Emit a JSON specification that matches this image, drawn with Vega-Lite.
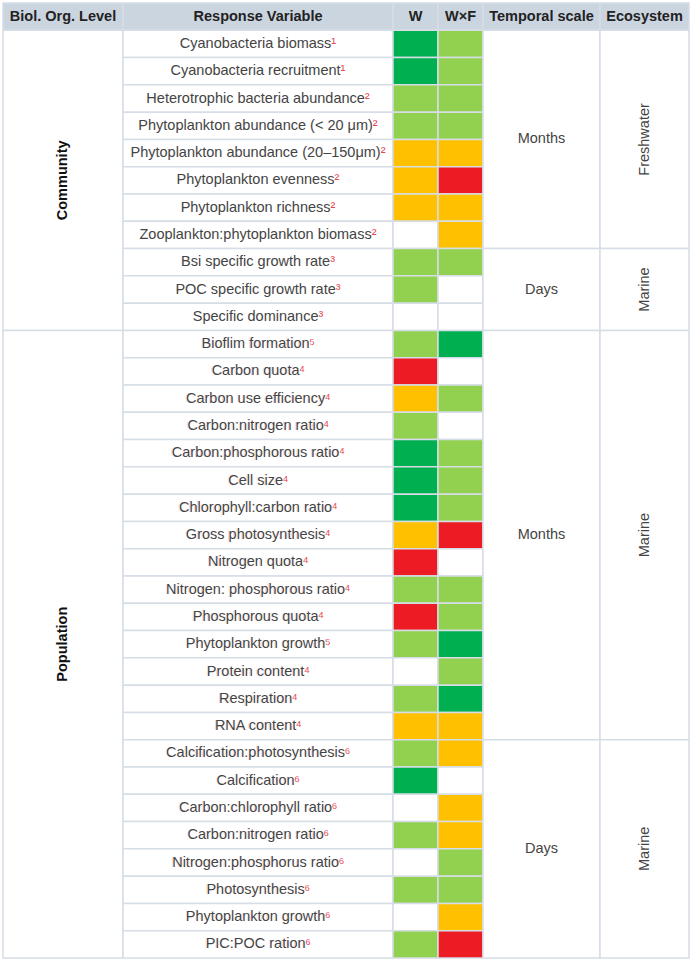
{
  "$schema": "https://vega.github.io/schema/vega-lite/v6.json",
  "padding": {"left": 2, "top": 2, "right": 3, "bottom": 6},
  "spacing": 0,
  "bounds": "flush",
  "config": {
    "view": {"stroke": null},
    "concat": {"spacing": 0},
    "text": {"font": "Liberation Sans", "fontSize": 14.5, "fill": "#444444"}
  },
  "datasets": {
    "rows": [
      {"n": 1, "label": "Cyanobacteria biomass", "full": "Cyanobacteria biomass¹", "W": "DG", "WxF": "LG"},
      {"n": 2, "label": "Cyanobacteria recruitment", "full": "Cyanobacteria recruitment¹", "W": "DG", "WxF": "LG"},
      {"n": 3, "label": "Heterotrophic bacteria abundance", "full": "Heterotrophic bacteria abundance²", "W": "LG", "WxF": "LG"},
      {"n": 4, "label": "Phytoplankton abundance (< 20 μm)", "full": "Phytoplankton abundance (< 20 μm)²", "W": "LG", "WxF": "LG"},
      {"n": 5, "label": "Phytoplankton abundance (20–150μm)", "full": "Phytoplankton abundance (20–150μm)²", "W": "O", "WxF": "O"},
      {"n": 6, "label": "Phytoplankton evenness", "full": "Phytoplankton evenness²", "W": "O", "WxF": "R"},
      {"n": 7, "label": "Phytoplankton richness", "full": "Phytoplankton richness²", "W": "O", "WxF": "O"},
      {"n": 8, "label": "Zooplankton:phytoplankton biomass", "full": "Zooplankton:phytoplankton biomass²", "W": "N", "WxF": "O"},
      {"n": 9, "label": "Bsi specific growth rate", "full": "Bsi specific growth rate³", "W": "LG", "WxF": "LG"},
      {"n": 10, "label": "POC specific growth rate", "full": "POC specific growth rate³", "W": "LG", "WxF": "N"},
      {"n": 11, "label": "Specific dominance", "full": "Specific dominance³", "W": "N", "WxF": "N"},
      {"n": 12, "label": "Bioflim formation", "full": "Bioflim formation⁵", "W": "LG", "WxF": "DG"},
      {"n": 13, "label": "Carbon quota", "full": "Carbon quota⁴", "W": "R", "WxF": "N"},
      {"n": 14, "label": "Carbon use efficiency", "full": "Carbon use efficiency⁴", "W": "O", "WxF": "LG"},
      {"n": 15, "label": "Carbon:nitrogen ratio", "full": "Carbon:nitrogen ratio⁴", "W": "LG", "WxF": "N"},
      {"n": 16, "label": "Carbon:phosphorous ratio", "full": "Carbon:phosphorous ratio⁴", "W": "DG", "WxF": "LG"},
      {"n": 17, "label": "Cell size", "full": "Cell size⁴", "W": "DG", "WxF": "LG"},
      {"n": 18, "label": "Chlorophyll:carbon ratio", "full": "Chlorophyll:carbon ratio⁴", "W": "DG", "WxF": "LG"},
      {"n": 19, "label": "Gross photosynthesis", "full": "Gross photosynthesis⁴", "W": "O", "WxF": "R"},
      {"n": 20, "label": "Nitrogen quota", "full": "Nitrogen quota⁴", "W": "R", "WxF": "N"},
      {"n": 21, "label": "Nitrogen: phosphorous ratio", "full": "Nitrogen: phosphorous ratio⁴", "W": "LG", "WxF": "LG"},
      {"n": 22, "label": "Phosphorous quota", "full": "Phosphorous quota⁴", "W": "R", "WxF": "LG"},
      {"n": 23, "label": "Phytoplankton growth", "full": "Phytoplankton growth⁵", "W": "LG", "WxF": "DG"},
      {"n": 24, "label": "Protein content", "full": "Protein content⁴", "W": "N", "WxF": "LG"},
      {"n": 25, "label": "Respiration", "full": "Respiration⁴", "W": "LG", "WxF": "DG"},
      {"n": 26, "label": "RNA content", "full": "RNA content⁴", "W": "O", "WxF": "O"},
      {"n": 27, "label": "Calcification:photosynthesis", "full": "Calcification:photosynthesis⁶", "W": "LG", "WxF": "O"},
      {"n": 28, "label": "Calcification", "full": "Calcification⁶", "W": "DG", "WxF": "N"},
      {"n": 29, "label": "Carbon:chlorophyll ratio", "full": "Carbon:chlorophyll ratio⁶", "W": "N", "WxF": "O"},
      {"n": 30, "label": "Carbon:nitrogen ratio", "full": "Carbon:nitrogen ratio⁶", "W": "LG", "WxF": "O"},
      {"n": 31, "label": "Nitrogen:phosphorus ratio", "full": "Nitrogen:phosphorus ratio⁶", "W": "N", "WxF": "LG"},
      {"n": 32, "label": "Photosynthesis", "full": "Photosynthesis⁶", "W": "LG", "WxF": "LG"},
      {"n": 33, "label": "Phytoplankton growth", "full": "Phytoplankton growth⁶", "W": "N", "WxF": "O"},
      {"n": 34, "label": "PIC:POC ration", "full": "PIC:POC ration⁶", "W": "LG", "WxF": "R"}
    ],
    "levels": [
      {"level": "Community", "first": 1, "last": 11, "anchor": 6},
      {"level": "Population", "first": 12, "last": 34, "anchor": 23}
    ],
    "spans": [
      {"time": "Months", "eco": "Freshwater", "first": 1, "last": 8, "anchor": 4},
      {"time": "Days", "eco": "Marine", "first": 9, "last": 11, "anchor": 10},
      {"time": "Months", "eco": "Marine", "first": 12, "last": 26, "anchor": 19},
      {"time": "Days", "eco": "Marine", "first": 27, "last": 34, "anchor": 30}
    ]
  },
  "hconcat": [
    {
      "width": 120, "height": 955,
      "layer": [
        {"data": {"values": [{"n": 0, "h": "Biol. Org. Level"}]}, "mark": {"type": "rect", "fill": "#cbd5e0", "stroke": "#d6dde6", "strokeWidth": 1.5},
         "encoding": {"y": {"field": "n", "type": "ordinal", "scale": {"domain": [0,1,2,3,4,5,6,7,8,9,10,11,12,13,14,15,16,17,18,19,20,21,22,23,24,25,26,27,28,29,30,31,32,33,34], "paddingInner": 0, "paddingOuter": 0}, "axis": null}}},
        {"data": {"values": [{"n": 0, "h": "Biol. Org. Level"}]}, "mark": {"type": "text", "fontWeight": "bold", "fill": "#222222"},
         "encoding": {"y": {"field": "n", "type": "ordinal", "scale": {"domain": [0,1,2,3,4,5,6,7,8,9,10,11,12,13,14,15,16,17,18,19,20,21,22,23,24,25,26,27,28,29,30,31,32,33,34], "paddingInner": 0, "paddingOuter": 0}, "axis": null}, "text": {"field": "h"}}},
        {"data": {"name": "levels"}, "mark": {"type": "rect", "fill": "#ffffff", "stroke": "#d6dde6", "strokeWidth": 1.5},
         "encoding": {"y": {"field": "first", "type": "ordinal", "bandPosition": 0, "scale": {"domain": [0,1,2,3,4,5,6,7,8,9,10,11,12,13,14,15,16,17,18,19,20,21,22,23,24,25,26,27,28,29,30,31,32,33,34], "paddingInner": 0, "paddingOuter": 0}, "axis": null}, "y2": {"field": "last", "bandPosition": 1}}},
        {"data": {"name": "levels"}, "mark": {"type": "text", "angle": 270, "fontWeight": "bold", "fill": "#111111"},
         "encoding": {"y": {"field": "anchor", "type": "ordinal", "scale": {"domain": [0,1,2,3,4,5,6,7,8,9,10,11,12,13,14,15,16,17,18,19,20,21,22,23,24,25,26,27,28,29,30,31,32,33,34], "paddingInner": 0, "paddingOuter": 0}, "axis": null}, "text": {"field": "level"}}}
      ]
    },
    {
      "width": 270, "height": 955,
      "layer": [
        {"data": {"values": [{"n": 0, "h": "Response Variable"}]}, "mark": {"type": "rect", "fill": "#cbd5e0", "stroke": "#d6dde6", "strokeWidth": 1.5},
         "encoding": {"y": {"field": "n", "type": "ordinal", "scale": {"domain": [0,1,2,3,4,5,6,7,8,9,10,11,12,13,14,15,16,17,18,19,20,21,22,23,24,25,26,27,28,29,30,31,32,33,34], "paddingInner": 0, "paddingOuter": 0}, "axis": null}}},
        {"data": {"values": [{"n": 0, "h": "Response Variable"}]}, "mark": {"type": "text", "fontWeight": "bold", "fill": "#222222"},
         "encoding": {"y": {"field": "n", "type": "ordinal", "scale": {"domain": [0,1,2,3,4,5,6,7,8,9,10,11,12,13,14,15,16,17,18,19,20,21,22,23,24,25,26,27,28,29,30,31,32,33,34], "paddingInner": 0, "paddingOuter": 0}, "axis": null}, "text": {"field": "h"}}},
        {"data": {"name": "rows"}, "mark": {"type": "rect", "fill": "#ffffff", "stroke": "#d6dde6", "strokeWidth": 1.5},
         "encoding": {"y": {"field": "n", "type": "ordinal", "scale": {"domain": [0,1,2,3,4,5,6,7,8,9,10,11,12,13,14,15,16,17,18,19,20,21,22,23,24,25,26,27,28,29,30,31,32,33,34], "paddingInner": 0, "paddingOuter": 0}, "axis": null}}},
        {"data": {"name": "rows"}, "mark": {"type": "text", "fill": "#e8474f"},
         "encoding": {"y": {"field": "n", "type": "ordinal", "scale": {"domain": [0,1,2,3,4,5,6,7,8,9,10,11,12,13,14,15,16,17,18,19,20,21,22,23,24,25,26,27,28,29,30,31,32,33,34], "paddingInner": 0, "paddingOuter": 0}, "axis": null}, "text": {"field": "full"}}},
        {"data": {"name": "rows"}, "mark": {"type": "text", "fill": "#ffffff", "stroke": "#ffffff", "strokeWidth": 1.6, "dx": -2.41},
         "encoding": {"y": {"field": "n", "type": "ordinal", "scale": {"domain": [0,1,2,3,4,5,6,7,8,9,10,11,12,13,14,15,16,17,18,19,20,21,22,23,24,25,26,27,28,29,30,31,32,33,34], "paddingInner": 0, "paddingOuter": 0}, "axis": null}, "text": {"field": "label"}}},
        {"data": {"name": "rows"}, "mark": {"type": "text", "fill": "#444444", "dx": -2.41},
         "encoding": {"y": {"field": "n", "type": "ordinal", "scale": {"domain": [0,1,2,3,4,5,6,7,8,9,10,11,12,13,14,15,16,17,18,19,20,21,22,23,24,25,26,27,28,29,30,31,32,33,34], "paddingInner": 0, "paddingOuter": 0}, "axis": null}, "text": {"field": "label"}}}
      ]
    },
    {
      "width": 45, "height": 955,
      "layer": [
        {"data": {"values": [{"n": 0, "h": "W"}]}, "mark": {"type": "rect", "fill": "#cbd5e0", "stroke": "#d6dde6", "strokeWidth": 1.5},
         "encoding": {"y": {"field": "n", "type": "ordinal", "scale": {"domain": [0,1,2,3,4,5,6,7,8,9,10,11,12,13,14,15,16,17,18,19,20,21,22,23,24,25,26,27,28,29,30,31,32,33,34], "paddingInner": 0, "paddingOuter": 0}, "axis": null}}},
        {"data": {"values": [{"n": 0, "h": "W"}]}, "mark": {"type": "text", "fontWeight": "bold", "fill": "#222222"},
         "encoding": {"y": {"field": "n", "type": "ordinal", "scale": {"domain": [0,1,2,3,4,5,6,7,8,9,10,11,12,13,14,15,16,17,18,19,20,21,22,23,24,25,26,27,28,29,30,31,32,33,34], "paddingInner": 0, "paddingOuter": 0}, "axis": null}, "text": {"field": "h"}}},
        {"data": {"name": "rows"}, "mark": {"type": "rect", "stroke": "#d6dde6", "strokeWidth": 1.5},
         "encoding": {"y": {"field": "n", "type": "ordinal", "scale": {"domain": [0,1,2,3,4,5,6,7,8,9,10,11,12,13,14,15,16,17,18,19,20,21,22,23,24,25,26,27,28,29,30,31,32,33,34], "paddingInner": 0, "paddingOuter": 0}, "axis": null},
           "fill": {"field": "W", "type": "nominal", "scale": {"domain": ["DG", "LG", "O", "R", "N"], "range": ["#00b050", "#92d050", "#ffc000", "#ed1c24", "#ffffff"]}, "legend": null}}}
      ]
    },
    {
      "width": 45, "height": 955,
      "layer": [
        {"data": {"values": [{"n": 0, "h": "W×F"}]}, "mark": {"type": "rect", "fill": "#cbd5e0", "stroke": "#d6dde6", "strokeWidth": 1.5},
         "encoding": {"y": {"field": "n", "type": "ordinal", "scale": {"domain": [0,1,2,3,4,5,6,7,8,9,10,11,12,13,14,15,16,17,18,19,20,21,22,23,24,25,26,27,28,29,30,31,32,33,34], "paddingInner": 0, "paddingOuter": 0}, "axis": null}}},
        {"data": {"values": [{"n": 0, "h": "W×F"}]}, "mark": {"type": "text", "fontWeight": "bold", "fill": "#222222"},
         "encoding": {"y": {"field": "n", "type": "ordinal", "scale": {"domain": [0,1,2,3,4,5,6,7,8,9,10,11,12,13,14,15,16,17,18,19,20,21,22,23,24,25,26,27,28,29,30,31,32,33,34], "paddingInner": 0, "paddingOuter": 0}, "axis": null}, "text": {"field": "h"}}},
        {"data": {"name": "rows"}, "mark": {"type": "rect", "stroke": "#d6dde6", "strokeWidth": 1.5},
         "encoding": {"y": {"field": "n", "type": "ordinal", "scale": {"domain": [0,1,2,3,4,5,6,7,8,9,10,11,12,13,14,15,16,17,18,19,20,21,22,23,24,25,26,27,28,29,30,31,32,33,34], "paddingInner": 0, "paddingOuter": 0}, "axis": null},
           "fill": {"field": "WxF", "type": "nominal", "scale": {"domain": ["DG", "LG", "O", "R", "N"], "range": ["#00b050", "#92d050", "#ffc000", "#ed1c24", "#ffffff"]}, "legend": null}}}
      ]
    },
    {
      "width": 117, "height": 955,
      "layer": [
        {"data": {"values": [{"n": 0, "h": "Temporal scale"}]}, "mark": {"type": "rect", "fill": "#cbd5e0", "stroke": "#d6dde6", "strokeWidth": 1.5},
         "encoding": {"y": {"field": "n", "type": "ordinal", "scale": {"domain": [0,1,2,3,4,5,6,7,8,9,10,11,12,13,14,15,16,17,18,19,20,21,22,23,24,25,26,27,28,29,30,31,32,33,34], "paddingInner": 0, "paddingOuter": 0}, "axis": null}}},
        {"data": {"values": [{"n": 0, "h": "Temporal scale"}]}, "mark": {"type": "text", "fontWeight": "bold", "fill": "#222222"},
         "encoding": {"y": {"field": "n", "type": "ordinal", "scale": {"domain": [0,1,2,3,4,5,6,7,8,9,10,11,12,13,14,15,16,17,18,19,20,21,22,23,24,25,26,27,28,29,30,31,32,33,34], "paddingInner": 0, "paddingOuter": 0}, "axis": null}, "text": {"field": "h"}}},
        {"data": {"name": "spans"}, "mark": {"type": "rect", "fill": "#ffffff", "stroke": "#d6dde6", "strokeWidth": 1.5},
         "encoding": {"y": {"field": "first", "type": "ordinal", "bandPosition": 0, "scale": {"domain": [0,1,2,3,4,5,6,7,8,9,10,11,12,13,14,15,16,17,18,19,20,21,22,23,24,25,26,27,28,29,30,31,32,33,34], "paddingInner": 0, "paddingOuter": 0}, "axis": null}, "y2": {"field": "last", "bandPosition": 1}}},
        {"data": {"name": "spans"}, "transform": [{"filter": "(datum.last - datum.first) % 2 == 0"}], "mark": {"type": "text"},
         "encoding": {"y": {"field": "anchor", "type": "ordinal", "scale": {"domain": [0,1,2,3,4,5,6,7,8,9,10,11,12,13,14,15,16,17,18,19,20,21,22,23,24,25,26,27,28,29,30,31,32,33,34], "paddingInner": 0, "paddingOuter": 0}, "axis": null}, "text": {"field": "time"}}},
        {"data": {"name": "spans"}, "transform": [{"filter": "(datum.last - datum.first) % 2 == 1"}], "mark": {"type": "text"},
         "encoding": {"y": {"field": "anchor", "type": "ordinal", "bandPosition": 1, "scale": {"domain": [0,1,2,3,4,5,6,7,8,9,10,11,12,13,14,15,16,17,18,19,20,21,22,23,24,25,26,27,28,29,30,31,32,33,34], "paddingInner": 0, "paddingOuter": 0}, "axis": null}, "text": {"field": "time"}}}
      ]
    },
    {
      "width": 89, "height": 955,
      "layer": [
        {"data": {"values": [{"n": 0, "h": "Ecosystem"}]}, "mark": {"type": "rect", "fill": "#cbd5e0", "stroke": "#d6dde6", "strokeWidth": 1.5},
         "encoding": {"y": {"field": "n", "type": "ordinal", "scale": {"domain": [0,1,2,3,4,5,6,7,8,9,10,11,12,13,14,15,16,17,18,19,20,21,22,23,24,25,26,27,28,29,30,31,32,33,34], "paddingInner": 0, "paddingOuter": 0}, "axis": null}}},
        {"data": {"values": [{"n": 0, "h": "Ecosystem"}]}, "mark": {"type": "text", "fontWeight": "bold", "fill": "#222222"},
         "encoding": {"y": {"field": "n", "type": "ordinal", "scale": {"domain": [0,1,2,3,4,5,6,7,8,9,10,11,12,13,14,15,16,17,18,19,20,21,22,23,24,25,26,27,28,29,30,31,32,33,34], "paddingInner": 0, "paddingOuter": 0}, "axis": null}, "text": {"field": "h"}}},
        {"data": {"name": "spans"}, "mark": {"type": "rect", "fill": "#ffffff", "stroke": "#d6dde6", "strokeWidth": 1.5},
         "encoding": {"y": {"field": "first", "type": "ordinal", "bandPosition": 0, "scale": {"domain": [0,1,2,3,4,5,6,7,8,9,10,11,12,13,14,15,16,17,18,19,20,21,22,23,24,25,26,27,28,29,30,31,32,33,34], "paddingInner": 0, "paddingOuter": 0}, "axis": null}, "y2": {"field": "last", "bandPosition": 1}}},
        {"data": {"name": "spans"}, "transform": [{"filter": "(datum.last - datum.first) % 2 == 0"}], "mark": {"type": "text", "angle": 270},
         "encoding": {"y": {"field": "anchor", "type": "ordinal", "scale": {"domain": [0,1,2,3,4,5,6,7,8,9,10,11,12,13,14,15,16,17,18,19,20,21,22,23,24,25,26,27,28,29,30,31,32,33,34], "paddingInner": 0, "paddingOuter": 0}, "axis": null}, "text": {"field": "eco"}}},
        {"data": {"name": "spans"}, "transform": [{"filter": "(datum.last - datum.first) % 2 == 1"}], "mark": {"type": "text", "angle": 270},
         "encoding": {"y": {"field": "anchor", "type": "ordinal", "bandPosition": 1, "scale": {"domain": [0,1,2,3,4,5,6,7,8,9,10,11,12,13,14,15,16,17,18,19,20,21,22,23,24,25,26,27,28,29,30,31,32,33,34], "paddingInner": 0, "paddingOuter": 0}, "axis": null}, "text": {"field": "eco"}}}
      ]
    }
  ]
}
